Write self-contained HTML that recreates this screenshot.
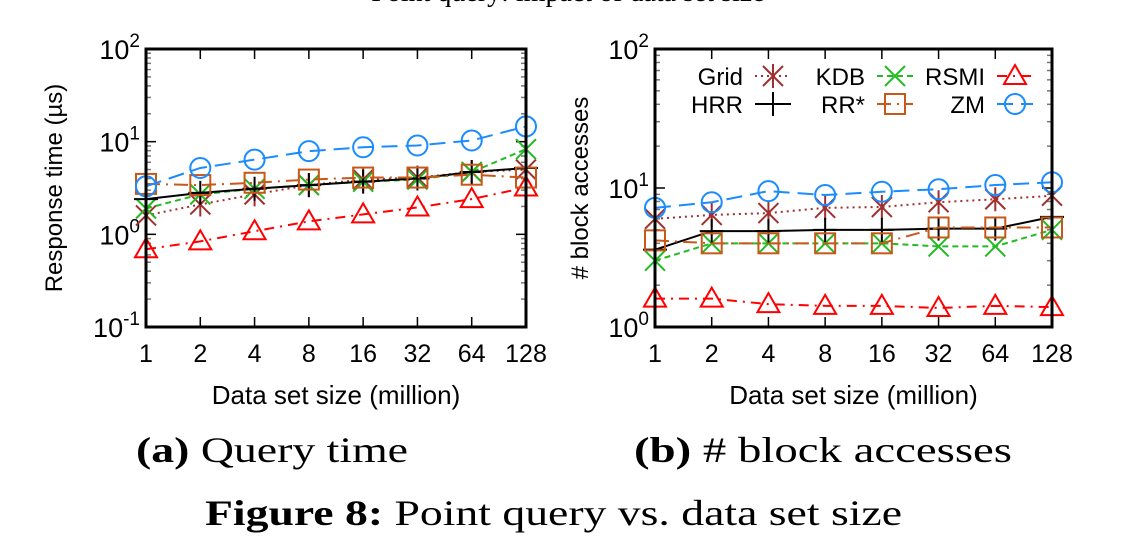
<!DOCTYPE html>
<html><head><meta charset="utf-8"><style>
body{margin:0;background:#fff;width:1136px;height:536px;overflow:hidden}
svg text{font-family:"Liberation Sans",sans-serif;fill:#000}
.cap{font-family:"Liberation Serif",serif;font-size:36px}
</style></head><body>
<svg id="fig" width="1136" height="536" viewBox="0 0 1136 536">
<text x="568" y="1" text-anchor="middle" class="cap" style="font-size:28px">Point query: impact of data set size</text>
<g id="pa"></g>
<g id="pb"></g>
<text x="136" y="462" class="cap" textLength="272" lengthAdjust="spacingAndGlyphs"><tspan font-weight="bold">(a)</tspan> Query time</text>
<text x="634" y="462" class="cap" textLength="378" lengthAdjust="spacingAndGlyphs"><tspan font-weight="bold">(b)</tspan> # block accesses</text>
<text x="205" y="525" class="cap" textLength="697" lengthAdjust="spacingAndGlyphs"><tspan font-weight="bold">Figure 8:</tspan> Point query vs. data set size</text>
</svg>
<script>
const categories=["1","2","4","8","16","32","64","128"];
const seriesNames=["Grid","KDB","RSMI","HRR","RR*","ZM"];
const timeGrid=[1.6,2.1,2.7,3.4,3.9,4.1,4.7,5.0];
const timeKDB=[1.9,2.7,3.1,3.4,3.7,3.9,4.7,8.3];
const timeRSMI=[0.69,0.84,1.08,1.38,1.64,1.95,2.4,3.2];
const timeHRR=[2.4,2.8,3.1,3.4,3.7,4.0,4.7,5.2];
const timeRR=[3.5,3.4,3.6,3.9,4.1,4.1,4.4,4.1];
const timeZM=[3.3,5.2,6.4,7.9,8.7,9.1,10.3,14.6];
const blkGrid=[6.0,6.4,6.6,7.2,7.3,7.9,8.3,8.8];
const blkKDB=[3.0,4.0,4.0,4.0,4.0,3.8,3.8,5.0];
const blkRSMI=[1.6,1.6,1.46,1.42,1.42,1.37,1.42,1.39];
const blkHRR=[3.6,4.9,4.9,5.0,5.0,5.1,5.1,6.2];
const blkRR=[4.2,4.0,4.0,4.0,4.0,5.2,5.2,5.2];
const blkZM=[7.2,7.9,9.5,8.9,9.4,9.8,10.5,11.0];
const ticksA=[-1,0,1,2];
const ticksB=[0,1,2];

const NS="http://www.w3.org/2000/svg";
const styles={
 Grid:{c:"#a0302f",d:"2,4",m:"star"},
 KDB:{c:"#22bb22",d:"6,4",m:"x"},
 RSMI:{c:"#ff0000",d:"10,6,2,6",m:"tri"},
 HRR:{c:"#000000",d:"",m:"plus"},
 RR:{c:"#c8581a",d:"14,6,2,6",m:"sq"},
 ZM:{c:"#1a8cff",d:"16,8",m:"circ"}
};
function el(p,t,a){const e=document.createElementNS(NS,t);for(const k in a)e.setAttribute(k,a[k]);p.appendChild(e);return e;}
function marker(g,type,x,y,c){
 const s={stroke:c,"stroke-width":2,fill:"none"};let e;
 if(type==="circ")e=el(g,"circle",Object.assign({cx:x,cy:y,r:10},s));
 else if(type==="sq")e=el(g,"rect",Object.assign({x:x-10,y:y-10,width:20,height:20},s));
 else if(type==="tri")e=el(g,"path",Object.assign({d:`M${x} ${y-11}L${x+11} ${y+8}L${x-11} ${y+8}Z`},s));
 else if(type==="plus")e=el(g,"path",Object.assign({d:`M${x-12} ${y}H${x+12}M${x} ${y-12}V${y+12}`},s));
 else if(type==="x")e=el(g,"path",Object.assign({d:`M${x-10} ${y-10}L${x+10} ${y+10}M${x-10} ${y+10}L${x+10} ${y-10}`},s));
 else e=el(g,"path",Object.assign({d:`M${x-10} ${y-10}L${x+10} ${y+10}M${x-10} ${y+10}L${x+10} ${y-10}M${x} ${y-12}V${y+12}`},s));
 return e;
}
function chart(gid,x0,x1,y0,y1,dmin,dmax,ticks,data,ylabel,ylx){
 const g=document.getElementById(gid);
 const xs=i=>x0+(x1-x0)*i/(categories.length-1);
 const ys=v=>y1-(Math.log10(v)-dmin)/(dmax-dmin)*(y1-y0);
 for(let d=dmin;d<dmax;d++)for(let k=2;k<=9;k++){const y=ys(k*Math.pow(10,d));
  el(g,"line",{x1:x0,x2:x0+5,y1:y,y2:y,stroke:"#777","stroke-width":1.5});
  el(g,"line",{x1:x1-5,x2:x1,y1:y,y2:y,stroke:"#777","stroke-width":1.5});}
 ticks.forEach(t=>{const y=ys(Math.pow(10,t));
  el(g,"line",{x1:x0,x2:x0+10,y1:y,y2:y,stroke:"#000","stroke-width":1.5});
  el(g,"line",{x1:x1-10,x2:x1,y1:y,y2:y,stroke:"#000","stroke-width":1.5});
  const tx=el(g,"text",{x:x0-6,y:y+10,"text-anchor":"end","font-size":"27"});
  
  
  tx.innerHTML="10<tspan dy='-12' font-size='19'>"+t+"</tspan>";});
 categories.forEach((c,i)=>{const x=xs(i);
  if(i>0&&i<categories.length-1){el(g,"line",{x1:x,x2:x,y1:y1,y2:y1-10,stroke:"#000","stroke-width":1.5});el(g,"line",{x1:x,x2:x,y1:y0,y2:y0+10,stroke:"#000","stroke-width":1.5});}
  const t=el(g,"text",{x:x,y:y1+35,"text-anchor":"middle","font-size":"25"});
  
  
  t.textContent=c;});
 const xt=el(g,"text",{x:(x0+x1)/2,y:y1+77,"text-anchor":"middle","font-size":"26"});
 
 
 xt.textContent="Data set size (million)";
 const yt=el(g,"text",{x:0,y:0,"text-anchor":"middle","font-size":"24",transform:`translate(${ylx},${(y0+y1)/2}) rotate(-90)`});
 
 
 yt.textContent=ylabel;
 data.forEach(([name,vals])=>{const st=styles[name.replace("*","")];
  const sg=el(g,"g",{});
  
  
  el(sg,"polyline",{points:vals.map((v,i)=>xs(i)+","+ys(v)).join(" "),fill:"none",stroke:st.c,"stroke-width":2,"stroke-dasharray":st.d});
  vals.forEach((v,i)=>{const m=marker(sg,st.m,xs(i),ys(v),st.c);
   
   });});
 el(g,"rect",{x:x0,y:y0,width:x1-x0,height:y1-y0,fill:"none",stroke:"#000","stroke-width":3});
 return g;
}
chart("pa",146,526,49,327,-1,2,ticksA,[["Grid",timeGrid],["KDB",timeKDB],["RSMI",timeRSMI],["HRR",timeHRR],["RR*",timeRR],["ZM",timeZM]],"Response time (µs)",62);
const gb=chart("pb",655,1052,49,327,0,2,ticksB,[["Grid",blkGrid],["KDB",blkKDB],["RSMI",blkRSMI],["HRR",blkHRR],["RR*",blkRR],["ZM",blkZM]],"# block accesses",588);
const lg=el(gb,"g",{});


const lpos=[[743,76],[865,76],[985,76],[743,104],[865,104],[985,104]];
seriesNames.forEach((n,i)=>{const st=styles[n.replace("*","")];const [tx,ty]=lpos[i];
 const e=el(lg,"g",{});
 
 
 const t=el(e,"text",{x:tx,y:ty+9,"text-anchor":"end","font-size":"24"});t.textContent=n;
 el(e,"line",{x1:tx+12,x2:tx+48,y1:ty,y2:ty,stroke:st.c,"stroke-width":2,"stroke-dasharray":st.d});
 marker(e,st.m,tx+30,ty,st.c);});
</script>
</body></html>
